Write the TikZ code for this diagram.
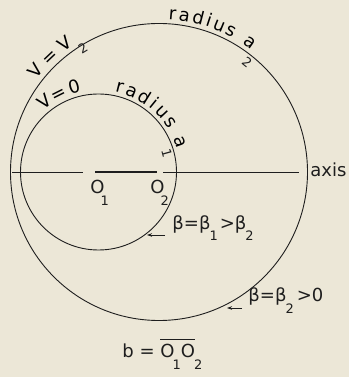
\documentclass[tikz,border=0pt]{standalone}
\usepackage{fontspec}
\setmainfont{DejaVu Sans}
\usetikzlibrary{decorations.text,arrows.meta}
\definecolor{bg}{RGB}{236,231,215}
\definecolor{ink}{RGB}{30,30,30}
\newcommand\labf{\fontsize{18}{18}\selectfont}
\newcommand\lsub[2][-3pt]{\kern#1\raisebox{-11.5pt}{\fontsize{13}{13}\selectfont #2}}
\newcommand\ovl[1]{\vbox{\hrule height 1pt\kern5pt\hbox{#1}}}
\begin{document}
\begin{tikzpicture}[x=1pt,y=1pt, line width=0.9pt, color=ink,
  lab/.style={font=\labf, inner sep=0pt, text=ink},
  sublab/.style={font=\fontsize{13}{13}\selectfont, inner sep=0pt, text=ink},
  arctext/.style={decorate, decoration={text along path, text align=fit to path}},
  ptr/.style={-{Stealth[length=5pt,width=3.5pt]}, line width=0.8pt}]
\fill[bg] (0,0) rectangle (349,377);
\useasboundingbox (0,0) rectangle (349,377);
\coordinate (C1) at (98.5,205);
\coordinate (C2) at (159,205);
\draw (C2) circle[radius=148.5];
\draw (C1) circle[radius=78];
% axis
\coordinate (A0) at (12,205);
\coordinate (A1) at (83,205);
\coordinate (O1) at (95,205);
\coordinate (O2) at (157,205);
\coordinate (A2) at (163,205);
\coordinate (A3) at (299,205);
\draw (A0) -- (A1);
\draw[line width=2.4pt] (O1) -- (O2);
\draw (A2) -- (A3);
\node[lab, anchor=base west] (axis) at (310,200) {axis};
\node[lab, anchor=base west] (o1lab) at (90,183) {O\lsub[-4pt]{1}};
\node[lab, anchor=base west] (o2lab) at (150,183) {O\lsub[-4pt]{2}};
% curved labels
\path[arctext, decoration={text={|\labf|radius a}}]
  ([shift={(86.5:153)}]C2) arc[start angle=86.5, end angle=53, radius=153];
\path[arctext, decoration={text={|\labf|V=V}}]
  ([shift={(143:153)}]C2) arc[start angle=143, end angle=124, radius=153];
\path[arctext, decoration={text={|\labf|V=0}}]
  ([shift={(132:82)}]C1) arc[start angle=132, end angle=102, radius=82];
\path[arctext, decoration={text={|\labf|radius a}}]
  ([shift={(78.5:82)}]C1) arc[start angle=78.5, end angle=16, radius=82];
\node[sublab, rotate=-38.7] (a2sub) at ([shift={(51.3:141)}]C2) {2};
\node[sublab, rotate=31.5] (v2sub) at ([shift={(121.5:145.5)}]C2) {2};
\node[sublab, rotate=-74.5] (a1sub) at ([shift={(15.5:71)}]C1) {1};
% beta labels
\node[lab, anchor=base west] (b1) at (172,147.5) {β=β\lsub[-1pt]{1}\kern2pt>β\lsub[-1pt]{2}};
\node[lab, anchor=base west] (b2) at (248,75) {β=β\lsub[-1pt]{2}\kern3pt>0};
\coordinate (s1) at (165,142);
\coordinate (t1) at (147,142);
\coordinate (s2) at (242,69);
\coordinate (t2) at (227,69);
\draw[ptr] (s1) -- (t1);
\draw[ptr] (s2) -- (t2);
% bottom
\node[lab, anchor=base west] (bdef) at (122,19) {b = \ovl{O\lsub[-2pt]{1}O}\lsub[-1pt]{2}};
\end{tikzpicture}
\end{document}
